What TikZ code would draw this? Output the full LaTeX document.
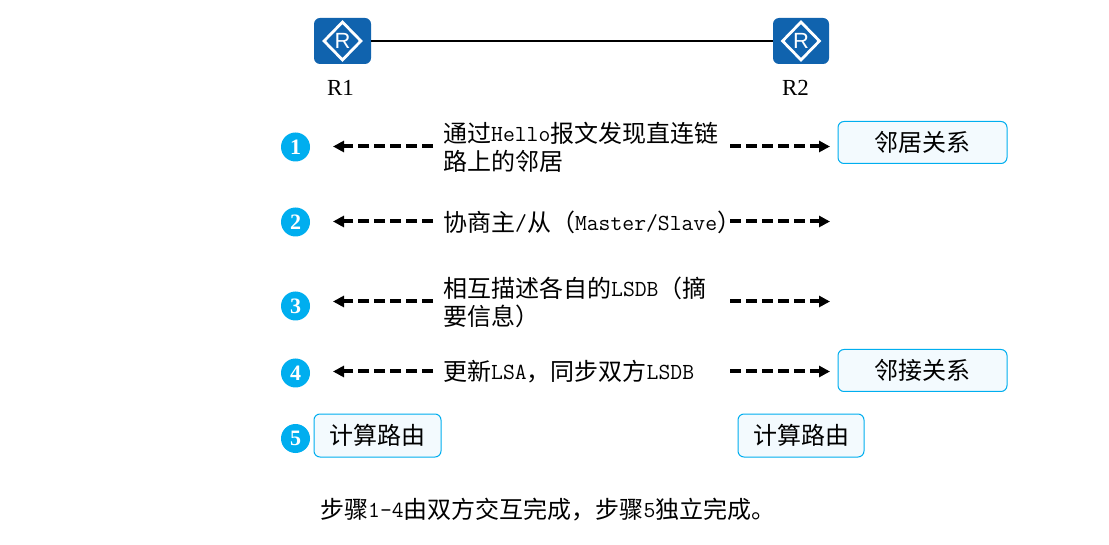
\documentclass[tikz,border=0pt]{standalone}
\usepackage{fontspec}
\setmainfont{Noto Sans CJK SC}
\newfontfamily\lmm{Latin Modern Mono}
\newfontfamily\serifnum{Liberation Serif}
\newfontfamily\iconfont{Liberation Sans}
\newcommand{\mm}[1]{{\lmm\fontsize{23}{28}\selectfont\raisebox{1pt}{#1}}}
\usetikzlibrary{arrows.meta,shapes.geometric}
\definecolor{hwblue}{HTML}{1063AE}
\definecolor{cyanb}{HTML}{00AEEF}
\definecolor{boxfill}{HTML}{F3FAFE}
\tikzset{
  router/.style={fill=hwblue,rounded corners=6pt,minimum width=57pt,minimum height=46pt,inner sep=0pt},
  rdiamond/.style={diamond,draw=white,line width=2.8pt,minimum width=38pt,minimum height=39pt,inner sep=0pt,text=white,font=\iconfont\fontsize{22}{22}\selectfont},
  rlabel/.style={font=\serifnum\fontsize{23}{24}\selectfont,inner sep=0pt},
  numdot/.style={circle,fill=cyanb,minimum size=29pt,inner sep=0pt,text=white,text depth=0pt,text height=15pt,font=\serifnum\bfseries\fontsize{22}{22}\selectfont},
  msg/.style={anchor=west,inner sep=0pt,align=left,font=\fontsize{24}{28}\selectfont},
  statebox/.style={draw=cyanb,fill=boxfill,rounded corners=6pt,line width=1pt,inner sep=0pt,font=\fontsize{24}{28}\selectfont},
  flow/.style={-{Triangle[length=11pt,width=11pt]},line width=4pt,dash pattern=on 11pt off 5pt,black},
}
\begin{document}
\begin{tikzpicture}[x=1pt,y=-1pt]
\useasboundingbox (0,0) rectangle (1109,545);
% routers
\node[router] (r1) at (342.5,41) {};
\node[router,minimum width=56pt] (r2) at (801,41) {};
\node[rdiamond] (d1) at (342.5,41) {R};
\node[rdiamond] (d2) at (801,41) {R};
\draw[line width=2pt] (r1) -- (r2);
\node[rlabel] (l1) at (340.5,88) {R1};
\node[rlabel] (l2) at (795.5,88) {R2};
% step markers
\node[numdot] (n1) at (295.5,147) {1};
\node[numdot] (n2) at (295.5,222) {2};
\node[numdot] (n3) at (295.5,306) {3};
\node[numdot] (n4) at (295.5,373) {4};
\node[numdot] (n5) at (295.5,438.5) {5};
% messages
\node[msg] (m1) at (443,147) {通过\mm{Hello}报文发现直连链\\路上的邻居};
\node[msg] (m2) at (443,222) {协商主\mm{/}从（\mm{Master/Slave}）};
\node[msg] (m3) at (443,302) {相互描述各自的\mm{LSDB}（摘\\要信息）};
\node[msg] (m4) at (443,372) {更新\mm{LSA}，同步双方\mm{LSDB}};
% arrow ends
\coordinate (a1l) at (433,146.5); \coordinate (a1lt) at (333,146.5);
\coordinate (a1r) at (730,146.5); \coordinate (a1rt) at (830,146.5);
\coordinate (a2l) at (433,221.5); \coordinate (a2lt) at (333,221.5);
\coordinate (a2r) at (730,221.5); \coordinate (a2rt) at (830,221.5);
\coordinate (a3l) at (433,301.5); \coordinate (a3lt) at (333,301.5);
\coordinate (a3r) at (730,301.5); \coordinate (a3rt) at (830,301.5);
\coordinate (a4l) at (433,371.5); \coordinate (a4lt) at (333,371.5);
\coordinate (a4r) at (730,371.5); \coordinate (a4rt) at (830,371.5);
\foreach \i in {1,2,3,4}{
  \draw[flow] (a\i l) -- (a\i lt);
  \draw[flow] (a\i r) -- (a\i rt);
}
% state boxes
\node[statebox,minimum width=169pt,minimum height=42pt] (s1) at (922.5,142.5) {邻居关系};
\node[statebox,minimum width=169pt,minimum height=42pt] (s2) at (922.5,370.5) {邻接关系};
\node[statebox,minimum width=127pt,minimum height=43pt] (c1) at (377.5,435.5) {计算路由};
\node[statebox,minimum width=126pt,minimum height=43pt] (c2) at (801,435.5) {计算路由};
% note
\node[msg] (note) at (320,510) {步骤\mm{1-4}由双方交互完成，步骤\mm{5}独立完成。};
\end{tikzpicture}
\end{document}
